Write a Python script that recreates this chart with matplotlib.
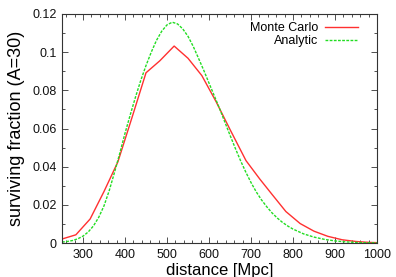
import matplotlib
matplotlib.use("Agg")
import matplotlib.pyplot as plt
from matplotlib.ticker import MultipleLocator, FuncFormatter

plt.rcParams['font.family'] = ['Liberation Sans', 'DejaVu Sans']

mc_x = [250, 283, 317, 350, 383, 417, 450, 483, 517, 550, 583, 617, 650, 688,
        721, 750, 783, 817, 850, 883, 917, 950, 983, 1000]
mc_y = [0.0021, 0.0043, 0.0126, 0.027, 0.0425, 0.066, 0.0892, 0.0955, 0.1032,
        0.0968, 0.0877, 0.074, 0.0595, 0.0432, 0.0335, 0.0255, 0.0165, 0.0102,
        0.0062, 0.0035, 0.0017, 0.0008, 0.0003, 0.0002]

an_x = [250, 262.5, 275, 287.5, 300, 312.5, 325, 337.5, 350, 362.5, 375, 387.5,
        400, 412.5, 425, 437.5, 450, 462.5, 475, 487.5, 500, 512.5, 525, 537.5,
        550, 562.5, 575, 587.5, 600, 612.5, 625, 637.5, 650, 662.5, 675, 687.5,
        700, 712.5, 725, 737.5, 750, 762.5, 775, 787.5, 800, 825, 850, 875,
        900, 925, 950, 975, 1000]
an_y = [0.0005, 0.0008, 0.0013, 0.0022, 0.0036, 0.0058, 0.009, 0.0135, 0.0195,
        0.0275, 0.037, 0.047, 0.0575, 0.0672, 0.0765, 0.0852, 0.093, 0.1,
        0.1062, 0.111, 0.1143, 0.1157, 0.1148, 0.1122, 0.1083, 0.103, 0.0968,
        0.0905, 0.0838, 0.0772, 0.0705, 0.0635, 0.0565, 0.0497, 0.0432, 0.0372,
        0.0317, 0.0268, 0.0226, 0.019, 0.0158, 0.0131, 0.0108, 0.0089, 0.0073,
        0.0048, 0.0031, 0.0019, 0.0011, 0.0006, 0.0003, 0.00015, 0.0001]

fig = plt.figure(figsize=(3.96, 2.77), dpi=100)
ax = fig.add_axes([0.1566, 0.1227, 0.7954, 0.8268])

ax.plot(mc_x, mc_y, color='#ff3030', lw=1.0, label='Monte Carlo')
ax.plot(an_x, an_y, color='#22dd22', lw=1.0, ls=(0, (2, 1)), label='Analytic')

ax.set_xlim(250, 1000)
ax.set_ylim(0, 0.12)
ax.xaxis.set_major_locator(MultipleLocator(100))
ax.xaxis.set_minor_locator(MultipleLocator(20))
ax.yaxis.set_major_locator(MultipleLocator(0.02))
ax.yaxis.set_minor_locator(MultipleLocator(0.01))
ax.yaxis.set_major_formatter(FuncFormatter(lambda v, p: '%g' % round(v, 4)))
ax.tick_params(which='both', direction='in', top=True, right=True,
               colors='#333333', labelcolor='#111111', labelsize=9)
ax.tick_params(which='major', length=4, width=0.6, pad=4)
ax.tick_params(which='minor', length=2, width=0.6)
for s in ax.spines.values():
    s.set_linewidth(0.8)
    s.set_color('#333333')

ax.set_xlabel('distance [Mpc]', fontsize=12, labelpad=2)
ax.set_ylabel('surviving fraction (A=30)', fontsize=13, labelpad=5)

leg = ax.legend(loc='upper right', frameon=False, fontsize=9,
                markerfirst=False, handlelength=2.6, handletextpad=0.6,
                labelspacing=0.05, borderaxespad=0.0,
                bbox_to_anchor=(0.955, 0.985))
for t in leg.get_texts():
    t.set_ha('right')
leg._legend_box.align = 'right'

fig.savefig('out.png', dpi=100)
